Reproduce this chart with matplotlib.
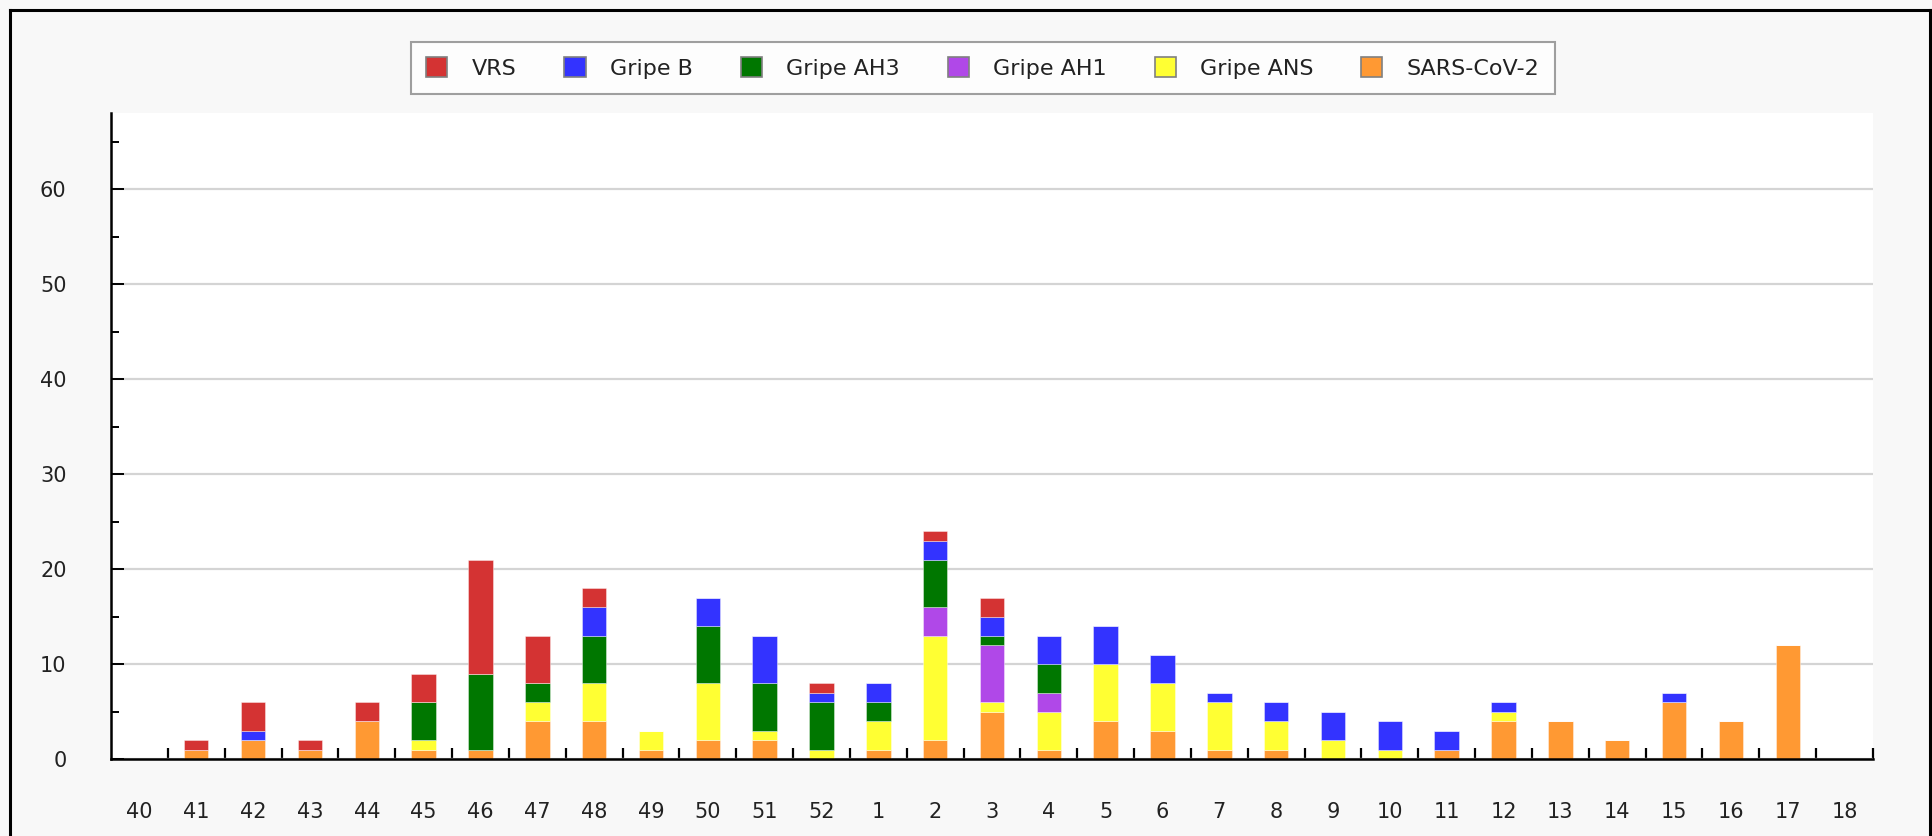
import numpy as np
import matplotlib
matplotlib.use("Agg")
import matplotlib.pyplot as plt
from matplotlib.patches import Patch
from matplotlib.lines import Line2D

# epidemiological weeks
weeks = ['40', '41', '42', '43', '44', '45', '46', '47', '48', '49', '50', '51', '52',
         '1', '2', '3', '4', '5', '6', '7', '8', '9', '10', '11', '12', '13', '14',
         '15', '16', '17', '18']

# detections per week (stacked bottom -> top)
sars = [0, 1, 2, 1, 4, 1, 1, 4, 4, 1, 2, 2, 0, 1, 2, 5, 1, 4, 3, 1, 1, 0, 0, 1, 4, 4, 2, 6, 4, 12, 0]
gripe_ans = [0, 0, 0, 0, 0, 1, 0, 2, 4, 2, 6, 1, 1, 3, 11, 1, 4, 6, 5, 5, 3, 2, 1, 0, 1, 0, 0, 0, 0, 0, 0]
gripe_ah1 = [0, 0, 0, 0, 0, 0, 0, 0, 0, 0, 0, 0, 0, 0, 3, 6, 2, 0, 0, 0, 0, 0, 0, 0, 0, 0, 0, 0, 0, 0, 0]
gripe_ah3 = [0, 0, 0, 0, 0, 4, 8, 2, 5, 0, 6, 5, 5, 2, 5, 1, 3, 0, 0, 0, 0, 0, 0, 0, 0, 0, 0, 0, 0, 0, 0]
gripe_b = [0, 0, 1, 0, 0, 0, 0, 0, 3, 0, 3, 5, 1, 2, 2, 2, 3, 4, 3, 1, 2, 3, 3, 2, 1, 0, 0, 1, 0, 0, 0]
vrs = [0, 1, 3, 1, 2, 3, 12, 5, 2, 0, 0, 0, 1, 0, 1, 2, 0, 0, 0, 0, 0, 0, 0, 0, 0, 0, 0, 0, 0, 0, 0]

series = [
    ('SARS-CoV-2', sars, '#ff9933'),
    ('Gripe ANS', gripe_ans, '#ffff33'),
    ('Gripe AH1', gripe_ah1, '#b048e8'),
    ('Gripe AH3', gripe_ah3, '#007700'),
    ('Gripe B', gripe_b, '#3333ff'),
    ('VRS', vrs, '#d43333'),
]

W, H = 1932, 836
fig = plt.figure(figsize=(W / 100, H / 100), dpi=100, facecolor='#f8f8f8')
ax = fig.add_axes([111 / W, 1 - 759 / H, (1873 - 111) / W, (759 - 113) / H])
ax.set_facecolor('white')

x = np.arange(len(weeks))
bottom = np.zeros(len(weeks))
for name, vals, col in series:
    vals = np.array(vals, dtype=float)
    ax.bar(x, vals, width=0.43, bottom=bottom, color=col,
           edgecolor=(1, 1, 1, 0.45), linewidth=0.6, zorder=3)
    bottom += vals

ax.set_xlim(-0.5, len(weeks) - 0.5)
ax.set_ylim(0, 68)

# x: labels at centres, tick marks at week boundaries
ax.set_xticks(x)
ax.set_xticklabels(weeks)
ax.set_xticks(np.arange(0.5, len(weeks), 1), minor=True)
ax.tick_params(axis='x', which='major', length=0, pad=31, labelsize=15, labelcolor='#222222')
ax.tick_params(axis='x', which='minor', direction='in', length=8, width=1.6, color='black')

ax.set_yticks(np.arange(0, 61, 10))
ax.set_yticks(np.arange(5, 66, 10), minor=True)
ax.tick_params(axis='y', which='major', direction='in', length=9, width=1.4, pad=32,
               labelsize=15, labelcolor='#222222')
ax.tick_params(axis='y', which='minor', direction='in', length=6, width=1.4)
ax.yaxis.grid(True, which='major', color='#d4d4d4', linewidth=1.6, zorder=0)
ax.set_axisbelow(True)

for s in ['top', 'right']:
    ax.spines[s].set_visible(False)
for s in ['left', 'bottom']:
    ax.spines[s].set_linewidth(1.8)
    ax.spines[s].set_zorder(4)

# legend in reverse stack order
handles = [Patch(facecolor=col, edgecolor='#808080', linewidth=1.2, label=name)
           for name, vals, col in series[::-1]]
leg = fig.legend(handles=handles, loc='center', bbox_to_anchor=(983 / W, 1 - 68 / H),
                 ncol=6, fontsize=16, frameon=True, fancybox=False,
                 handlelength=0.95, handleheight=0.95, handletextpad=1.1,
                 columnspacing=2.15, borderpad=0.7, borderaxespad=0)
leg.get_frame().set_edgecolor('#888888')
leg.get_frame().set_linewidth(1.5)
leg.get_frame().set_facecolor('white')
for t in leg.get_texts():
    t.set_color('#222222')

# outer frame of the panel
fig.add_artist(Line2D([10 / W, 1930 / W], [1 - 10 / H, 1 - 10 / H], color='black', lw=2.2))
fig.add_artist(Line2D([10 / W, 10 / W], [0, 1 - 10 / H], color='black', lw=2.2))
fig.add_artist(Line2D([1930 / W, 1930 / W], [0, 1 - 10 / H], color='black', lw=2.2))

fig.savefig('out.png', dpi=100, facecolor=fig.get_facecolor())
